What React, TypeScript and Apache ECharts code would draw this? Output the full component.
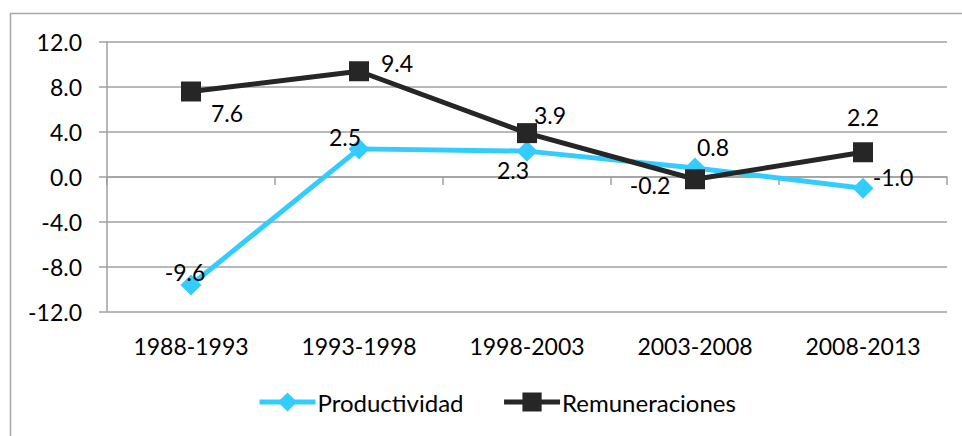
import React, { useEffect, useRef } from "react";
import * as echarts from "echarts";

const categories = ["1988-1993", "1993-1998", "1998-2003", "2003-2008", "2008-2013"];
const productividad = [-9.6, 2.5, 2.3, 0.8, -1.0];
const remuneraciones = [7.6, 9.4, 3.9, -0.2, 2.2];
const seriesNames = ["Productividad", "Remuneraciones"];

const prodOffsets: [number, number][] = [[-6, -13], [-14, -12], [-14, 19], [18, -21], [30, -11]];
const remOffsets: [number, number][] = [[36, 21], [38, -8], [23, -18], [-45, 6], [0, -35]];

const FONT = "Lato";
const GRID = "#a0a0a0";

export default function App() {
  const ref = useRef<HTMLDivElement>(null);
  useEffect(() => {
    const chart = echarts.init(ref.current!, null, { renderer: "svg" });
    const mkData = (vals: number[], offs: [number, number][]) =>
      vals.map((v, i) => ({
        value: v,
        label: { offset: offs[i] },
      }));
    const labelBase = {
      show: true,
      position: "inside",
      align: "center",
      verticalAlign: "middle",
      color: "#000",
      fontFamily: FONT,
      fontSize: 23,
      formatter: (p: any) => Number(p.value).toFixed(1),
    };
    chart.setOption({
      animation: false,
      backgroundColor: "#fff",
      graphic: [
        {
          type: "rect",
          shape: { x: 10.5, y: 13.5, width: 960, height: 440 },
          style: { fill: "none", stroke: "#a6a6a6", lineWidth: 1.5 },
          silent: true,
          z: -1,
        },
      ],
      grid: { left: 107, right: 15, top: 42, bottom: 124 },
      legend: {
        left: 252,
        top: 385,
        itemWidth: 56,
        itemHeight: 24,
        itemGap: 38,
        lineStyle: { width: 5 },
        textStyle: { fontFamily: FONT, fontSize: 24, color: "#000", padding: [0, 0, 0, -3] },
        data: seriesNames,
      },
      xAxis: [
        {
          type: "category",
          data: categories,
          boundaryGap: true,
          axisLine: { onZero: true, lineStyle: { color: GRID, width: 1.5 } },
          axisTick: { show: true, length: 8, lineStyle: { color: GRID, width: 1.5 } },
          axisLabel: { show: false },
          splitLine: { show: false },
        },
        {
          type: "category",
          data: categories,
          position: "bottom",
          boundaryGap: true,
          axisLine: { show: false, onZero: false },
          axisTick: { show: false },
          axisLabel: { show: true, margin: 22, color: "#000", fontFamily: FONT, fontSize: 23 },
          splitLine: { show: false },
        },
      ],
      yAxis: {
        type: "value",
        min: -12,
        max: 12,
        interval: 4,
        axisLine: { show: true, lineStyle: { color: GRID, width: 1.5 } },
        axisTick: { show: true, length: 8, lineStyle: { color: GRID, width: 1.5 } },
        axisLabel: {
          margin: 25,
          color: "#000",
          fontFamily: FONT,
          fontSize: 23,
          formatter: (v: number) => v.toFixed(1),
        },
        splitLine: { show: true, lineStyle: { color: GRID, width: 1.5 } },
      },
      series: [
        {
          name: seriesNames[0],
          type: "line",
          data: mkData(productividad, prodOffsets),
          symbol: "diamond",
          symbolSize: 21,
          lineStyle: { color: "#33ccff", width: 5 },
          itemStyle: { color: "#33ccff" },
          label: labelBase,
          z: 2,
        },
        {
          name: seriesNames[1],
          type: "line",
          data: mkData(remuneraciones, remOffsets),
          symbol: "rect",
          symbolSize: 20,
          lineStyle: { color: "#262626", width: 5 },
          itemStyle: { color: "#262626" },
          label: labelBase,
          z: 3,
        },
      ],
    });
    return () => chart.dispose();
  }, []);
  return <div ref={ref} style={{ width: 962, height: 436, position: "absolute", left: 0, top: 0 }} />;
}
